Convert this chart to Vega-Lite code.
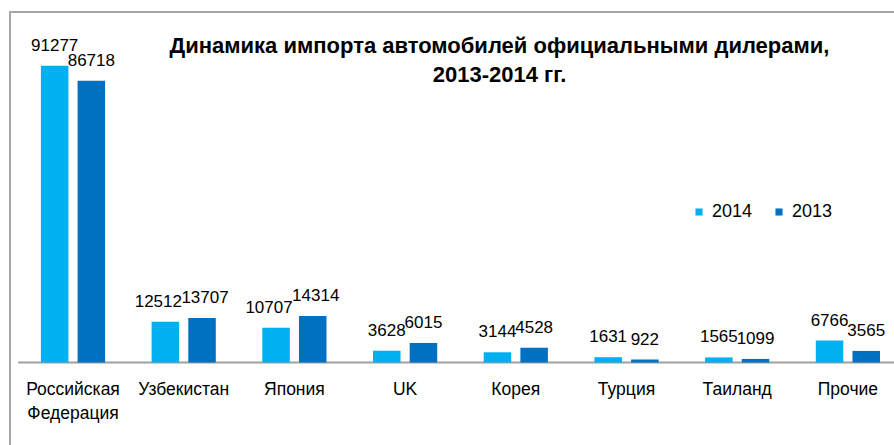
{
  "$schema": "https://vega.github.io/schema/vega-lite/v6.json",
  "width": 885,
  "height": 434,
  "autosize": "none",
  "padding": {"left": 10, "top": 12, "right": 0, "bottom": 0},
  "background": "white",
  "config": {
    "view": {"stroke": "#a6a6a6", "strokeWidth": 2},
    "font": "Liberation Sans"
  },
  "title": {
    "text": ["Динамика импорта автомобилей официальными дилерами,", "2013-2014 гг."],
    "anchor": "middle",
    "frame": "group",
    "orient": "top",
    "offset": -75,
    "dx": 47,
    "font": "Liberation Sans",
    "fontSize": 22,
    "fontWeight": "bold",
    "lineHeight": 29,
    "color": "#000000"
  },
  "data": {
    "values": [
      {"country": "Российская Федерация", "year": "2014", "value": 91277},
      {"country": "Российская Федерация", "year": "2013", "value": 86718},
      {"country": "Узбекистан", "year": "2014", "value": 12512},
      {"country": "Узбекистан", "year": "2013", "value": 13707},
      {"country": "Япония", "year": "2014", "value": 10707},
      {"country": "Япония", "year": "2013", "value": 14314},
      {"country": "UK", "year": "2014", "value": 3628},
      {"country": "UK", "year": "2013", "value": 6015},
      {"country": "Корея", "year": "2014", "value": 3144},
      {"country": "Корея", "year": "2013", "value": 4528},
      {"country": "Турция", "year": "2014", "value": 1631},
      {"country": "Турция", "year": "2013", "value": 922},
      {"country": "Таиланд", "year": "2014", "value": 1565},
      {"country": "Таиланд", "year": "2013", "value": 1099},
      {"country": "Прочие", "year": "2014", "value": 6766},
      {"country": "Прочие", "year": "2013", "value": 3565}
    ]
  },
  "encoding": {
    "x": {
      "field": "country",
      "type": "nominal",
      "sort": ["Российская Федерация", "Узбекистан", "Япония", "UK", "Корея", "Турция", "Таиланд", "Прочие"],
      "scale": {"range": [7.65, 893.25], "paddingInner": 0.42, "paddingOuter": 0.21},
      "axis": {
        "orient": "bottom",
        "offset": -84,
        "title": null,
        "domainColor": "#a0a0a0",
        "domainWidth": 2,
        "ticks": false,
        "labelAngle": 0,
        "labelPadding": 18,
        "labelFont": "Liberation Sans",
        "labelFontSize": 17.5,
        "labelColor": "#000000",
        "labelLineHeight": 24,
        "labelExpr": "split(datum.label, ' ')"
      }
    },
    "xOffset": {
      "field": "year",
      "type": "nominal",
      "sort": ["2014", "2013"],
      "scale": {"paddingInner": 0.25, "paddingOuter": 0}
    },
    "y": {
      "field": "value",
      "type": "quantitative",
      "scale": {"domain": [0, 100000], "range": [350.5, 25.5]},
      "axis": null
    }
  },
  "layer": [
    {
      "mark": {"type": "bar"},
      "encoding": {
        "color": {
          "field": "year",
          "type": "nominal",
          "scale": {"domain": ["2014", "2013"], "range": ["#00B0F0", "#0070C0"]},
          "legend": {
            "orient": "none",
            "legendX": 680,
            "legendY": 191,
            "direction": "horizontal",
            "title": null,
            "symbolType": "square",
            "symbolSize": 50,
            "symbolStrokeWidth": 0,
            "labelFont": "Liberation Sans",
            "labelFontSize": 18,
            "labelColor": "#000000",
            "labelOffset": 4,
            "columnPadding": 17
          }
        }
      }
    },
    {
      "mark": {
        "type": "text",
        "baseline": "alphabetic",
        "dy": -15,
        "dx": {"expr": "datum.value >= 10000 && datum.value < 20000 ? (datum.year == '2014' ? -7 : 3) : 0"},
        "fontSize": 17,
        "font": "Liberation Sans",
        "color": "#000000"
      },
      "encoding": {"text": {"field": "value", "type": "quantitative", "format": "d"}}
    }
  ]
}
